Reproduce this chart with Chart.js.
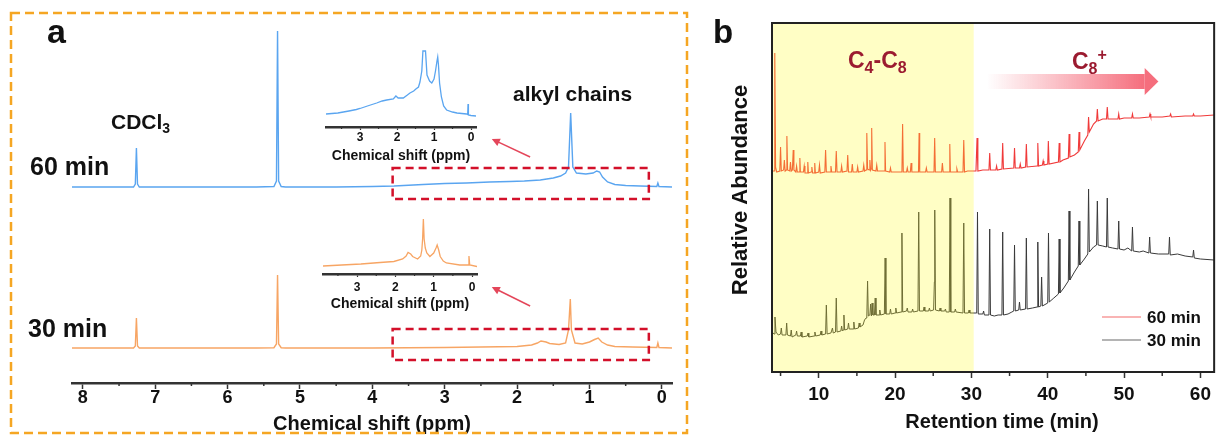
<!DOCTYPE html>
<html><head><meta charset="utf-8">
<script src="https://cdn.jsdelivr.net/npm/chart.js@4.4.1/dist/chart.umd.min.js"></script>
<style>
html,body{margin:0;padding:0;background:#fff;width:1218px;height:435px;overflow:hidden;position:relative;}
canvas{position:absolute;}
</style></head><body>
<canvas id="cA" width="690" height="435" style="left:0;top:0"></canvas>
<canvas id="cI60" width="170" height="125" style="left:316px;top:40px"></canvas>
<canvas id="cI30" width="174" height="110" style="left:313px;top:205px"></canvas>
<canvas id="cB" width="518" height="435" style="left:700px;top:0"></canvas>
<script>
// ---------------- DATA ----------------
const seriesNames = ['60 min', '30 min'];

// Panel a: 1H NMR, [ppm, intensity above own baseline]
const nmr60 = [[8.15,0],[7.6,0],[7.3,0],[7.275,3],[7.26,39],[7.245,3],[7.22,0],[6.5,0],[5.6,0],[5.36,0.5],[5.325,6],[5.31,156],[5.295,6],[5.26,0.5],[5.2,0],[4.5,0],[4.0,0.5],[3.7,1],[3.3,2.5],[3.0,3.5],[2.7,4],[2.38,5],[2.1,5.5],[1.9,6],[1.68,7],[1.5,9],[1.4,11],[1.33,14],[1.29,20],[1.26,74],[1.23,20],[1.18,14],[1.05,13],[0.95,14],[0.9,16],[0.86,15],[0.82,10],[0.75,5],[0.65,2.5],[0.5,1.5],[0.3,1],[0.07,0.5],[0.055,4],[0.04,0.5],[-0.14,0]];
const nmr30 = [[8.15,0],[7.6,0],[7.3,0],[7.275,2],[7.26,30],[7.245,2],[7.22,0],[6.5,0],[5.6,0],[5.36,0.3],[5.325,4],[5.31,73],[5.295,4],[5.26,0.3],[5.2,0],[4.0,0],[3.0,0.5],[2.5,1],[2.0,1.5],[1.8,3],[1.72,5],[1.67,7],[1.6,6],[1.55,4.5],[1.42,3.5],[1.33,5],[1.29,18],[1.265,49],[1.25,18],[1.2,5],[1.1,4],[1.0,6],[0.93,8.5],[0.88,10],[0.83,6],[0.75,3],[0.65,1.5],[0.4,1],[0.07,0.5],[0.055,5],[0.04,0.5],[-0.14,0]];
const nmrTicks = [8,7,6,5,4,3,2,1,0];
const nmrMinorTicks = [7.5,6.5,5.5,4.5,3.5,2.5,1.5,0.5];

// Insets (alkyl region, zoomed)
const inset60 = [[3.92,13],[3.6,14],[3.3,16],[3.1,17.5],[3.0,18.5],[2.8,21],[2.55,24],[2.4,26],[2.28,27],[2.1,28],[2.03,31],[1.97,29],[1.83,29],[1.72,32],[1.65,34],[1.55,36],[1.49,38],[1.42,40],[1.38,45],[1.33,56],[1.3,76],[1.23,76],[1.19,52],[1.12,46],[1.06,44],[1.0,48],[0.96,56],[0.92,66],[0.9,70],[0.88,62],[0.85,44],[0.8,30],[0.74,21],[0.66,17],[0.5,15],[0.38,14],[0.12,13],[0.09,12.5],[0.08,23],[0.07,12],[0.0,11.5],[-0.135,11]];
const inset30 = [[3.89,8],[3.4,9],[2.9,10],[2.4,11.5],[2.04,12.5],[1.81,15],[1.72,18],[1.67,21.5],[1.6,20],[1.55,17.5],[1.42,15],[1.34,18],[1.31,24],[1.29,35],[1.27,55],[1.25,35],[1.22,26],[1.18,21],[1.1,17.5],[1.0,21],[0.94,26],[0.91,29],[0.87,24],[0.83,17.5],[0.75,13],[0.67,11],[0.32,9],[0.09,9],[0.08,18],[0.06,9],[-0.13,7.5]];
const insetTicks = [3,2,1,0];
const insetMinorTicks = [3.5,2.5,1.5,0.5];

// Panel b: GC, [retention time (min), abundance]
const gc60 = [[3.9,201],[4.15,201],[4.22,260],[4.27,319],[4.35,205],[4.5,200],[4.9,201],[5.0,225],[5.1,201],[5.4,202],[5.5,212],[5.6,201],[5.75,202],[5.83,236],[5.92,202],[6.2,201],[6.3,210],[6.4,201],[6.55,202],[6.66,222],[6.75,202],[7.0,200],[7.1,206],[7.2,200],[7.45,200],[7.53,214],[7.6,200],[8.0,200],[8.1,206],[8.2,199],[8.5,199],[8.57,210],[8.65,199],[9.0,200],[9.1,205],[9.2,199],[9.4,199],[9.48,209],[9.56,199],[10.0,200],[10.1,207],[10.2,199],[10.8,200],[10.9,222],[11.0,200],[11.5,200],[11.6,206],[11.7,200],[12.2,200],[12.3,221],[12.4,200],[12.9,200],[13.0,206],[13.1,200],[13.7,201],[13.8,217],[13.9,200],[14.3,200],[14.4,208],[14.5,200],[15.0,200],[15.1,205],[15.2,200],[15.8,201],[15.9,207],[16.0,201],[16.2,202],[16.3,239],[16.4,203],[16.6,202],[16.7,212],[16.8,202],[16.85,203],[16.94,244],[17.03,202],[17.5,201],[17.6,207],[17.7,201],[18.6,201],[18.68,230],[18.76,201],[19.3,200],[19.4,204],[19.5,200],[20.9,200],[20.99,248],[21.08,200],[21.5,200],[21.6,204],[21.7,200],[22.0,200],[22.1,209],[22.2,200],[23.07,200],[23.15,239],[23.23,200],[24.0,200],[24.1,204],[24.2,200],[25.1,200],[25.19,234],[25.28,200],[25.5,200],[26.1,200],[26.2,209],[26.3,200],[27.1,200],[27.17,228],[27.25,200],[28.0,200],[28.1,203],[28.2,200],[28.9,200],[29.0,232],[29.1,200],[29.5,201],[30.6,201],[30.74,234],[30.85,201],[31.5,202],[32.3,202],[32.4,219],[32.5,202],[33.2,202],[33.3,206],[33.4,202],[34.0,203],[34.1,229],[34.2,203],[35.55,204],[35.65,224],[35.75,204],[36.3,204],[36.4,208],[36.5,204],[37.1,205],[37.2,228],[37.3,205],[38.6,206],[38.7,229],[38.8,206],[39.3,207],[39.4,211],[39.5,207],[40.0,208],[40.08,231],[40.18,208],[41.4,210],[41.5,229],[41.6,210],[42.0,212],[42.7,214],[42.8,238],[42.9,215],[43.5,217],[44.0,220],[44.1,240],[44.2,222],[44.8,231],[45.25,237],[45.35,255],[45.45,240],[46.0,248],[46.4,251],[46.5,263],[46.6,251],[47.2,253],[47.7,253],[47.8,265],[47.9,253],[48.5,253],[49.2,253],[49.3,258],[49.4,253],[50.0,254],[51.0,254],[51.1,258],[51.2,254],[52.0,254],[53.3,255],[53.4,258],[53.5,255],[55.0,255],[56.0,256],[56.1,258],[56.2,255],[58.0,256],[59.0,256],[59.1,258],[59.2,256],[60.0,256],[61.8,257]];
const gc30 = [[3.9,40],[4.15,38],[4.27,55],[4.4,40],[4.7,37],[5.0,38],[5.1,44],[5.2,37],[5.7,37],[5.8,49],[5.9,37],[6.3,36],[6.4,42],[6.5,35],[7.0,37],[7.1,41],[7.2,36],[7.6,36],[7.7,40],[7.8,35],[8.5,36],[8.6,39],[8.7,35],[9.4,36],[9.5,40],[9.6,36],[10.2,37],[10.3,41],[10.4,37],[10.9,38],[11.0,67],[11.1,38],[11.6,39],[11.8,44],[11.9,39],[12.2,40],[12.3,74],[12.4,40],[12.9,41],[13.0,46],[13.1,41],[13.2,42],[13.3,57],[13.4,42],[13.8,43],[13.9,49],[14.0,43],[14.5,43],[14.6,50],[14.7,43],[15.2,44],[15.3,49],[15.4,45],[15.8,47],[16.0,52],[16.2,54],[16.3,55],[16.4,91],[16.5,56],[16.7,57],[16.8,68],[16.9,56],[17.0,69],[17.1,57],[17.3,57],[17.4,74],[17.5,57],[17.9,57],[18.0,62],[18.1,57],[18.6,58],[18.7,114],[18.8,58],[19.3,58],[19.4,63],[19.5,58],[20.0,59],[20.1,64],[20.2,59],[20.8,60],[20.9,139],[21.0,60],[21.5,61],[21.6,64],[21.7,60],[22.2,60],[22.3,63],[22.4,60],[23.0,61],[23.1,160],[23.2,61],[23.7,61],[23.8,65],[23.9,61],[24.4,61],[24.5,64],[24.6,61],[25.05,62],[25.15,90],[25.2,162],[25.3,62],[25.8,61],[25.9,64],[26.0,61],[26.5,61],[26.6,63],[26.7,60],[27.1,60],[27.2,174],[27.3,60],[27.8,60],[27.9,63],[28.0,60],[28.9,59],[29.0,149],[29.1,59],[29.6,59],[29.7,62],[29.8,59],[30.2,59],[30.7,59],[30.8,160],[30.9,58],[31.5,58],[31.6,61],[31.7,57],[32.3,57],[32.4,143],[32.5,57],[33.0,56],[33.5,57],[34.0,57],[34.1,140],[34.2,57],[34.8,58],[35.3,60],[35.55,61],[35.65,127],[35.75,61],[36.2,62],[36.3,70],[36.4,62],[37.1,63],[37.2,134],[37.3,63],[38.0,64],[38.6,65],[38.7,130],[38.8,65],[39.1,66],[39.2,95],[39.3,66],[40.0,69],[40.1,139],[40.2,70],[40.8,74],[41.4,78],[41.5,133],[41.6,79],[42.1,84],[42.7,91],[42.8,161],[42.9,92],[43.5,100],[44.0,106],[44.1,151],[44.2,107],[44.8,113],[45.25,118],[45.35,183],[45.45,120],[46.0,125],[46.4,127],[46.5,171],[46.6,127],[47.2,126],[47.7,125],[47.8,174],[47.9,125],[48.5,124],[49.2,123],[49.3,151],[49.4,123],[50.0,122],[50.5,124],[51.0,121],[51.1,145],[51.2,121],[52.0,120],[52.5,121],[53.25,119],[53.35,135],[53.45,119],[54.5,118],[55.85,118],[55.95,135],[56.05,117],[57.0,118],[58.0,116],[59.0,115],[59.1,122],[59.2,114],[60.0,113],[61.8,112]];
const gcTicks = [10,20,30,40,50,60];
const gcMinorTicks = [5,15,25,35,45,55];

// ---------------- STYLE / HELPERS ----------------
const FONT = "'Liberation Sans', Arial, Helvetica, sans-serif";
Chart.defaults.font.family = FONT;
Chart.defaults.color = '#111';
const C60a = '#5aa5f0', C30a = '#f7a564', C60b = '#f03a3a', C30b = '#3a3a3a';

function pts(arr, off = 0) { return arr.map(([x, y]) => ({ x, y: y + off })); }

function xAxis(o) {
  return {
    type: 'linear', min: o.min, max: o.max, reverse: !!o.reverse,
    afterBuildTicks: s => { s.ticks = o.ticks.map(v => ({ value: v })); },
    afterFit: s => { s.height = o.height; },
    ticks: { autoSkip: false, maxRotation: 0, minRotation: 0, padding: o.pad, color: '#111',
      font: { size: o.fontSize, weight: 'bold', lineHeight: 1 }, callback: v => String(v) },
    grid: { display: true, drawOnChartArea: false, drawTicks: true, tickLength: o.tickLen, tickWidth: o.tickW || 1.5, tickColor: '#333' },
    border: { display: true, color: '#333', width: o.borderW },
    title: o.title ? { display: true, text: o.title, color: '#111', font: { size: o.titleSize, weight: 'bold', lineHeight: 1 }, padding: 0 } : { display: false }
  };
}

function minorTicks(chart, values, len, w) {
  const { ctx, chartArea: ca, scales: { x } } = chart;
  ctx.save(); ctx.strokeStyle = '#333'; ctx.lineWidth = w;
  values.forEach(v => { const p = x.getPixelForValue(v); ctx.beginPath(); ctx.moveTo(p, ca.bottom); ctx.lineTo(p, ca.bottom + len); ctx.stroke(); });
  ctx.restore();
}

function drawParts(ctx, x, base, parts, color) {
  ctx.save(); ctx.fillStyle = color; ctx.textBaseline = 'alphabetic'; ctx.textAlign = 'left';
  let cx = x;
  parts.forEach(p => { ctx.font = 'bold ' + p.size + 'px ' + FONT; ctx.fillText(p.t, cx, base + (p.dy || 0)); cx += ctx.measureText(p.t).width; });
  ctx.restore();
}

function arrow(ctx, x1, y1, x2, y2, color, w, hl, hw) {
  const a = Math.atan2(y2 - y1, x2 - x1);
  ctx.save(); ctx.strokeStyle = color; ctx.fillStyle = color; ctx.lineWidth = w;
  ctx.beginPath(); ctx.moveTo(x1, y1); ctx.lineTo(x2 - hl * 0.7 * Math.cos(a), y2 - hl * 0.7 * Math.sin(a)); ctx.stroke();
  ctx.beginPath(); ctx.moveTo(x2, y2);
  ctx.lineTo(x2 - hl * Math.cos(a) + hw * Math.sin(a), y2 - hl * Math.sin(a) - hw * Math.cos(a));
  ctx.lineTo(x2 - hl * Math.cos(a) - hw * Math.sin(a), y2 - hl * Math.sin(a) + hw * Math.cos(a));
  ctx.closePath(); ctx.fill(); ctx.restore();
}

const baseOpts = { responsive: false, animation: false, events: [], plugins: { legend: { display: false }, tooltip: { enabled: false } } };
const lineDS = (data, color, w) => ({ data, borderColor: color, borderWidth: w, pointRadius: 0, tension: 0, fill: false });

// ---------------- PANEL A ----------------
const OFF60 = 161; // vertical stacking offset of the 60 min trace
const panelA = {
  id: 'panelA',
  afterDraw(chart) {
    const { ctx, scales: { x, y } } = chart;
    minorTicks(chart, nmrMinorTicks, 3, 1.5);
    ctx.save();
    ctx.setLineDash([9, 5]); ctx.strokeStyle = '#f5a623'; ctx.lineWidth = 2.5; ctx.strokeRect(11, 13, 676, 420);
    ctx.setLineDash([8, 5]); ctx.strokeStyle = '#d3102a'; ctx.lineWidth = 2.5;
    [OFF60, 0].forEach(off => {
      const x1 = x.getPixelForValue(3.72), x2 = x.getPixelForValue(0.18);
      const y1 = y.getPixelForValue(off + 19), y2 = y.getPixelForValue(off - 12);
      ctx.strokeRect(x1, y1, x2 - x1, y2 - y1);
    });
    ctx.setLineDash([]);
    arrow(ctx, x.getPixelForValue(1.82), y.getPixelForValue(OFF60 + 30), x.getPixelForValue(2.35), y.getPixelForValue(OFF60 + 48), '#e4465a', 1.5, 8, 4);
    arrow(ctx, x.getPixelForValue(1.82), y.getPixelForValue(42), x.getPixelForValue(2.35), y.getPixelForValue(61), '#e4465a', 1.5, 8, 4);
    ctx.restore();
    drawParts(ctx, 47, 43, [{ t: 'a', size: 34 }], '#111');
    drawParts(ctx, 30, 175, [{ t: seriesNames[0], size: 25 }], '#111');
    drawParts(ctx, 28, 337, [{ t: seriesNames[1], size: 25 }], '#111');
    drawParts(ctx, 111, 129, [{ t: 'CDCl', size: 21 }, { t: '3', size: 14, dy: 4 }], '#111');
    drawParts(ctx, 513, 101, [{ t: 'alkyl chains', size: 21 }], '#111');
  }
};
new Chart(document.getElementById('cA'), {
  type: 'line',
  data: { datasets: [lineDS(pts(nmr60, OFF60), C60a, 1.4), lineDS(pts(nmr30), C30a, 1.4)] },
  options: Object.assign({}, baseOpts, {
    layout: { padding: { left: 72, right: 18, top: 23, bottom: 1 } },
    scales: {
      x: xAxis({ min: -0.14, max: 8.15, reverse: true, ticks: nmrTicks, fontSize: 18, pad: 0, tickLen: 6, borderW: 2.5, height: 51, title: 'Chemical shift (ppm)', titleSize: 20 }),
      y: { type: 'linear', display: false, min: -35, max: 325 }
    }
  }),
  plugins: [panelA]
});

// ---------------- INSETS ----------------
const insetMinor = { id: 'insetMinor', afterDraw(chart) { minorTicks(chart, insetMinorTicks, 2, 1.2); } };
new Chart(document.getElementById('cI60'), {
  type: 'line',
  data: { datasets: [lineDS(pts(inset60), C60a, 1.3)] },
  options: Object.assign({}, baseOpts, {
    layout: { padding: { left: 10, right: 10, top: 5, bottom: 2 } },
    scales: {
      x: xAxis({ min: -0.135, max: 3.92, reverse: true, ticks: insetTicks, fontSize: 12, pad: 2, tickLen: 3, tickW: 1.2, borderW: 2.5, height: 36, title: 'Chemical shift (ppm)', titleSize: 14 }),
      y: { type: 'linear', display: false, min: 0, max: 82 }
    }
  }),
  plugins: [insetMinor]
});
new Chart(document.getElementById('cI30'), {
  type: 'line',
  data: { datasets: [lineDS(pts(inset30), C30a, 1.3)] },
  options: Object.assign({}, baseOpts, {
    layout: { padding: { left: 10, right: 10, top: 9, bottom: 4 } },
    scales: {
      x: xAxis({ min: -0.13, max: 3.89, reverse: true, ticks: insetTicks, fontSize: 12, pad: 5, tickLen: 3, tickW: 1.2, borderW: 2.5, height: 37, title: 'Chemical shift (ppm)', titleSize: 14 }),
      y: { type: 'linear', display: false, min: 0, max: 60 }
    }
  }),
  plugins: [insetMinor]
});

// ---------------- PANEL B ----------------
const C4C8_END = 30.3; // end of the shaded C4-C8 window (min)
const panelB = {
  id: 'panelB',
  afterDatasetsDraw(chart) {
    const { ctx, chartArea: ca, scales: { x } } = chart;
    ctx.save();
    ctx.fillStyle = 'rgba(255,250,40,0.27)';
    ctx.fillRect(ca.left, ca.top, x.getPixelForValue(C4C8_END) - ca.left, ca.bottom - ca.top);
    ctx.restore();
  },
  afterDraw(chart) {
    const { ctx, chartArea: ca, scales: { x, y } } = chart;
    minorTicks(chart, gcMinorTicks, 4, 1.5);
    ctx.save();
    ctx.strokeStyle = '#222'; ctx.lineWidth = 2;
    ctx.strokeRect(ca.left, ca.top, ca.right - ca.left, ca.bottom - ca.top);
    // gradient arrow
    const xs = x.getPixelForValue(32), xb = x.getPixelForValue(52.7), xt = x.getPixelForValue(54.5);
    const g = ctx.createLinearGradient(xs, 0, xb, 0);
    g.addColorStop(0, 'rgba(245,115,130,0)'); g.addColorStop(1, 'rgba(245,110,125,1)');
    ctx.fillStyle = g;
    ctx.fillRect(xs, y.getPixelForValue(298), xb - xs, y.getPixelForValue(283) - y.getPixelForValue(298));
    ctx.fillStyle = 'rgb(245,110,125)';
    ctx.beginPath(); ctx.moveTo(xb, y.getPixelForValue(304)); ctx.lineTo(xt, y.getPixelForValue(290.5)); ctx.lineTo(xb, y.getPixelForValue(277)); ctx.closePath(); ctx.fill();
    // legend
    ctx.lineWidth = 1.2;
    [[C60b, 317, seriesNames[0]], [C30b, 340, seriesNames[1]]].forEach(([c, yy, t]) => {
      ctx.strokeStyle = c; ctx.globalAlpha = 0.75; ctx.beginPath(); ctx.moveTo(402, yy); ctx.lineTo(441, yy); ctx.stroke(); ctx.globalAlpha = 1;
      drawParts(ctx, 447, yy + 6, [{ t, size: 17 }], '#111');
    });
    // y title
    ctx.fillStyle = '#111'; ctx.font = 'bold 22px ' + FONT; ctx.textAlign = 'center'; ctx.textBaseline = 'alphabetic';
    ctx.translate(47, 190); ctx.rotate(-Math.PI / 2); ctx.fillText('Relative Abundance', 0, 0);
    ctx.restore();
    ctx.save();
    ctx.fillStyle = '#111'; ctx.font = 'bold 20px ' + FONT; ctx.textAlign = 'center'; ctx.textBaseline = 'alphabetic';
    ctx.fillText('Retention time (min)', 302, 428);
    ctx.restore();
    drawParts(ctx, 13, 43, [{ t: 'b', size: 33 }], '#111');
    drawParts(ctx, 148, 68, [{ t: 'C', size: 23 }, { t: '4', size: 16, dy: 5 }, { t: '-C', size: 23 }, { t: '8', size: 16, dy: 5 }], '#9b1b30');
    drawParts(ctx, 372, 69, [{ t: 'C', size: 23 }, { t: '8', size: 16, dy: 5 }, { t: '+', size: 16, dy: -9 }], '#9b1b30');
  }
};
new Chart(document.getElementById('cB'), {
  type: 'line',
  data: { datasets: [lineDS(pts(gc60), C60b, 1.1), lineDS(pts(gc30), C30b, 1.0)] },
  options: Object.assign({}, baseOpts, {
    layout: { padding: { left: 72, right: 1, top: 23, bottom: 3 } },
    scales: {
      x: xAxis({ min: 3.88, max: 61.8, ticks: gcTicks, fontSize: 19, pad: 7, tickLen: 6, borderW: 2, height: 60 }),
      y: { type: 'linear', display: false, min: 0, max: 349 }
    }
  }),
  plugins: [panelB]
});
</script>
</body></html>
